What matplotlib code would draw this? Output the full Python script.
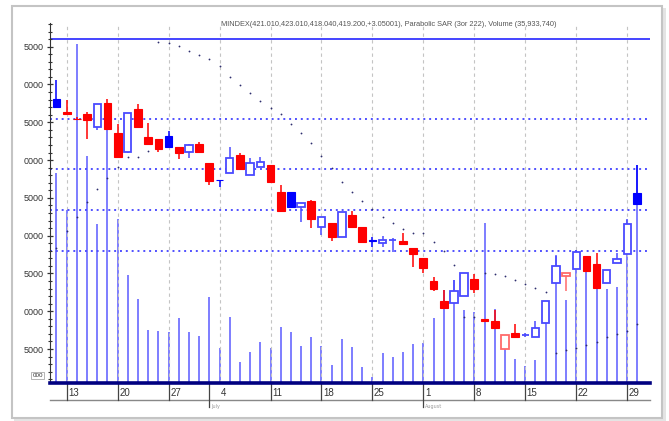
import numpy as np
import pandas as pd
import matplotlib.pyplot as plt
from matplotlib.patches import Rectangle
from matplotlib.ticker import FixedLocator, MultipleLocator, FuncFormatter

# trading days 10 Jun - 30 Aug 2011
dates = pd.bdate_range("2011-06-10", "2011-08-30")

opens = [38080, 36360, 35500, 36100, 34380, 37550, 33580, 31070, 36760, 33050,
         32790, 33190, 31730, 31070, 32130, 29620, 27430, 28290, 30670, 28030,
         29090, 29350, 25780, 25780, 23790, 24590, 21150, 21680, 19830, 22740,
         21150, 19430, 19030, 19400, 19300, 18370, 17050, 14000, 11360, 11090,
         12020, 14270, 8980, 8710, 5010, 7120, 6830, 6600, 8450, 13740,
         14670, 15590, 17310, 16250, 13740, 16390, 17580, 25650]
highs = [40600, 37950, 35700, 36360, 37420, 38080, 34770, 36230, 37420, 34910,
         32790, 33850, 31730, 32130, 32390, 29620, 27430, 31730, 30940, 30280,
         30410, 29350, 26700, 25780, 24320, 24720, 22470, 21680, 23130, 23270,
         21150, 19830, 19960, 19690, 20350, 18370, 17050, 14530, 12810, 14140,
         15060, 14930, 8980, 10170, 6860, 8320, 7120, 8710, 11360, 17310,
         15060, 18110, 17310, 17710, 15460, 17710, 22210, 29350]
lows = [36890, 35970, 35240, 32790, 33980, 34110, 30280, 30940, 34380, 32130,
        31070, 31600, 30140, 30280, 31070, 26700, 26440, 28290, 28820, 28030,
        29090, 27100, 23270, 23790, 21810, 21020, 20090, 19300, 19830, 21150,
        19160, 18500, 18500, 17840, 18900, 15860, 15060, 12680, 10430, 11090,
        12020, 12420, 8710, 7790, 5010, 6600, 6600, 6600, 8450, 13740,
        12680, 15590, 15330, 13080, 13740, 16390, 17580, 24190]
closes = [37020, 36100, 35370, 35300, 37420, 34110, 30410, 36230, 34380, 32130,
          31470, 31730, 30940, 32000, 31070, 27230, 27300, 30280, 28820, 29620,
          29750, 27100, 23270, 23790, 24320, 22210, 22470, 19830, 23130, 21150,
          19160, 19230, 19430, 19455, 18900, 17580, 15720, 12950, 10430, 12680,
          15060, 12950, 8710, 7790, 6860, 6600, 6890, 7790, 11360, 15990,
          15060, 17840, 15330, 13080, 15460, 16910, 21550, 24190]
prev_close0 = 36500

# volume in millions
volume = [34.6, 28.5, 55.9, 37.4, 26.2, 41.7, 27.0, 17.8, 13.8, 8.7,
          8.6, 8.4, 10.7, 8.4, 7.7, 14.2, 5.8, 10.9, 3.5, 5.1,
          6.8, 5.8, 9.2, 8.4, 6.1, 7.6, 6.1, 3.0, 7.3, 5.9,
          2.6, 1.0, 4.9, 4.3, 5.1, 6.4, 6.6, 10.7, 15.3, 17.0,
          12.0, 11.7, 26.4, 12.2, 5.8, 4.0, 2.8, 3.8, 9.9, 21.1,
          13.7, 21.6, 18.6, 18.6, 15.5, 15.8, 26.9, 35.93]

sar = [18370, 20620, 22470, 24455, 26175, 27630, 29090, 30410, 30410, 31200,
       45620, 45490, 45090, 44430, 43900, 43370, 42450, 40990, 39930, 38880,
       37820, 36890, 36100, 34770, 33580, 32260, 30540, 28950, 27100, 25780,
       24590, 23530, 22470, 21680, 20880, 20350, 20350, 19160, 17970, 16120,
       9240, 9240, 15060, 14930, 14670, 14140, 13610, 13080, 12550, 4480,
       4870, 5140, 5540, 5930, 6600, 6990, 7390, 8320]

top_level = 46060
fib_levels = [35400, 28780, 23360, 18010]

title = ("MINDEX(421.010,423.010,418.040,419.200,+3.05001), "
         "Parabolic SAR (3or 222), Volume (35,933,740)")

x = np.arange(len(dates))
o = np.array(opens); h = np.array(highs); l = np.array(lows); c = np.array(closes)
prev = np.concatenate([[prev_close0], c[:-1]])
up = c >= prev
filled = c < o

fig = plt.figure(figsize=(6.69, 4.21), dpi=100)
fig.patch.set_facecolor("white")

# page frame with a soft shadow
fig.patches.append(Rectangle((0.021, 0.0), 0.975, 0.982, transform=fig.transFigure,
                             facecolor="#e4e4e4", edgecolor="none", zorder=-3))
fig.patches.append(Rectangle((0.018, 0.007), 0.972, 0.978, transform=fig.transFigure,
                             facecolor="white", edgecolor="#c4c4c4", lw=1.5, zorder=-2))

pos = [0.0747, 0.0903, 0.8969, 0.8551]
vax = fig.add_axes(pos)
ax = fig.add_axes(pos)
ax.patch.set_visible(False)
xlim = (-0.64, 58.24)

# volume
vax.vlines(x, 0, volume, color="#7373ff", lw=1.3)
vax.set_xlim(xlim)
vax.set_ylim(0, 59.33)
vax.axis("off")

# week grid
mondays = [i for i, d in enumerate(dates) if d.weekday() == 0]
for i in mondays:
    ax.axvline(i, color="#c4c4c4", lw=0.8, ls=(0, (3, 3)), zorder=0)

# levels
ax.axhline(top_level, color="#4444ff", lw=1.4, zorder=1)
for lv in fib_levels:
    ax.axhline(lv, color="#5050ff", lw=1.4, ls=(0, (1, 2)), zorder=1)

# candles
for i in x:
    col = "#0000ff" if up[i] else "#ff0000"
    if not filled[i]:
        col = "#4a4aff" if up[i] else "#ff6a6a"
    ax.vlines(i, l[i], h[i], color=col, lw=1.1, zorder=3)
    lo, hi = min(o[i], c[i]), max(o[i], c[i])
    hgt = max(hi - lo, 60)
    if filled[i]:
        ax.add_patch(Rectangle((i - 0.38, lo), 0.76, hgt, facecolor=col,
                               edgecolor=col, lw=0.8, zorder=4))
    else:
        ax.add_patch(Rectangle((i - 0.36, lo), 0.72, hgt, facecolor="white",
                               edgecolor=col, lw=1.3, zorder=4))

# parabolic SAR
ax.plot(x, sar, ls="none", marker="o", ms=1.3, mew=0, color="#2e2e6e", zorder=5)

ax.set_xlim(xlim)
ax.set_ylim(509, 48137)

for s in ["top", "right"]:
    ax.spines[s].set_visible(False)
ax.spines["left"].set_color("#333333")
ax.spines["bottom"].set_color("#000080")
ax.spines["bottom"].set_linewidth(2.6)

ax.yaxis.set_major_locator(FixedLocator(np.arange(5000, 45001, 5000)))
ax.yaxis.set_minor_locator(MultipleLocator(1000))
ax.yaxis.set_major_formatter(FuncFormatter(lambda v, p: f"{int(v) % 10000:04d}"))
ax.tick_params(axis="y", which="major", length=5, width=0.9, direction="inout",
               labelsize=6.5, colors="#333333", pad=2)
ax.tick_params(axis="y", which="minor", length=3, width=0.8, direction="inout",
               colors="#333333")
for lab in ax.get_yticklabels():
    lab.set_fontfamily("Liberation Sans")
ax.set_xticks([])

ax.text(-0.012, 0.022, "000", transform=ax.transAxes, ha="right", va="center",
        fontsize=4.5, family="Liberation Sans", color="#333333",
        bbox=dict(boxstyle="square,pad=0.15", fc="white", ec="#999999", lw=0.5))

# date axis below the chart
tr = ax.get_xaxis_transform()
month_starts = [i for i in range(1, len(dates)) if dates[i].month != dates[i - 1].month]
ax.plot(xlim, [-0.047, -0.047], transform=tr, color="#888888", lw=1.0, clip_on=False)
for i in mondays:
    if i - 1 not in month_starts and i not in month_starts:
        ax.plot([i, i], [0, -0.047], transform=tr, color="#444444", lw=0.9, clip_on=False)
    ax.text(i + 0.15, -0.027, str(dates[i].day), transform=tr, ha="left", va="center",
            fontsize=7, family="Liberation Sans", color="#333333")
for i in month_starts:
    ax.plot([i, i], [0, -0.068], transform=tr, color="#444444", lw=0.9, clip_on=False)
    ax.text(i + 0.2, -0.065, dates[i].strftime("%B"), transform=tr, ha="left",
            va="center", fontsize=3.5, color="#999999")

fig.text(221 / 669, 1 - 24 / 421, title, ha="left", va="center", fontsize=5.3,
         family="Liberation Sans", color="#555555")

plt.savefig("out.png", dpi=100)
